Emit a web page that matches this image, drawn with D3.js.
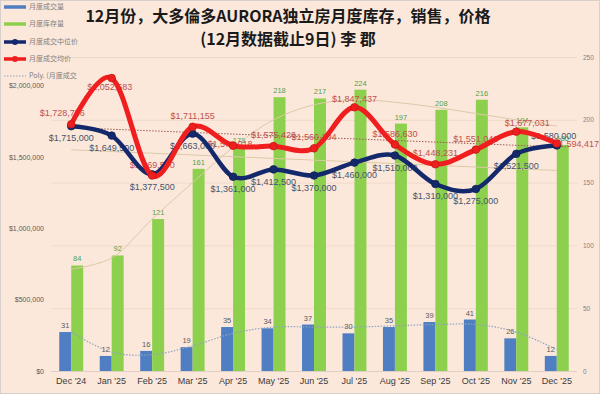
<!DOCTYPE html>
<html>
<head>
<meta charset="utf-8">
<script src="https://cdn.jsdelivr.net/npm/d3@7"></script>
<style>
  body { margin: 0; background: #fff; }
  svg { display: block; }
</style>
</head>
<body>
<div id="chart"></div>
<script>
// dati
const months = ["Dec '24", "Jan '25", "Feb '25", "Mar '25", "Apr '25", "May '25", "Jun '25",
                "Jul '25", "Aug '25", "Sep '25", "Oct '25", "Nov '25", "Dec '25"];
const volume = [31, 12, 16, 19, 35, 34, 37, 30, 35, 39, 41, 26, 12];
const inventory = [84, 92, 121, 161, 178, 218, 217, 224, 197, 208, 216, 194, 180];
const medianPrice = [1715000, 1649500, 1377500, 1663000, 1361000, 1412500, 1370000,
                     1460000, 1510000, 1310000, 1275000, 1521500, 1580000];
const avgPrice = [1728786, 2052583, 1369500, 1711155, 1578018, 1575426, 1560104,
                  1847437, 1586630, 1448231, 1551046, 1677031, 1594417];
// linee di tendenza (lette a occhio)
const volumeTrend = [31, 15, 13, 20, 30, 35, 35, 35, 36, 37, 37, 31, 17];
const inventoryTrend = [81, 90, 121, 150, 178, 200, 212, 216, 214, 210, 205, 200, 195];
const avgTrendEnds = [1705000, 1570000];
const medianTrendEnds = [1550000, 1405000];
const priceTicks = [0, 500000, 1000000, 1500000, 2000000];
const countTicks = [0, 50, 100, 150, 200, 250];

const legendItems = ["月度成交量", "月度库存量", "月度成交中位价", "月度成交均价", "Poly. (月度成交"];
const titleLines = ["12月份，大多倫多AURORA独立房月度库存，销售，价格", "(12月数据截止9日) 李 郡"];

const W = 600, H = 396;
const plotLeft = 51, plotRight = 577, plotTop = 57, plotBottom = 371;
const numFont = "'Liberation Sans', Arial, sans-serif";
const cjkFont = "'Noto Sans CJK SC', 'Noto Sans', sans-serif";

const colBlue = "#4F7EC2", colGreen = "#8DD04E", colNavy = "#14296B", colRed = "#F01E1E";

let svg = d3.select("#chart").append("svg").attr("width", W).attr("height", H);

svg.append("rect").attr("x", 0.5).attr("y", 0.5).attr("width", W - 1).attr("height", 393)
    .attr("fill", "#FCE8DB").attr("stroke", "#D6CFCA");

// scale
let x = d3.scaleBand().domain(months).range([plotLeft, plotRight]).padding(0);
let sub = d3.scaleBand().domain(["vol", "inv"]).range([0, x.bandwidth()]).paddingInner(0).paddingOuter(0.69);
let yL = d3.scaleLinear().domain([0, 2200000]).range([plotBottom, plotTop]);
let yR = d3.scaleLinear().domain([0, 250]).range([plotBottom, plotTop]);
let cx = (m) => x(m) + x.bandwidth() / 2;

// griglia
svg.append("g")
    .attr("transform", `translate(${plotLeft},0)`)
    .call(d3.axisLeft(yR).tickValues(countTicks).tickSize(-(plotRight - plotLeft)).tickFormat(""))
    .call(g => g.select(".domain").remove())
    .call(g => g.selectAll("line").attr("stroke", "#EFD9CA").attr("stroke-width", 1));

svg.append("line").attr("x1", plotLeft).attr("x2", plotRight).attr("y1", plotBottom + 0.5).attr("y2", plotBottom + 0.5)
    .attr("stroke", "#E0CFC4");

// assi
svg.append("g")
    .attr("transform", `translate(46,0)`)
    .call(d3.axisLeft(yL).tickValues(priceTicks).tickSize(0).tickPadding(2).tickFormat(d3.format("$,")))
    .call(g => g.select(".domain").remove())
    .call(g => g.selectAll("text").attr("fill", "#595959").style("font-family", numFont).style("font-size", "7px"));

svg.append("g")
    .attr("transform", `translate(580,0)`)
    .call(d3.axisRight(yR).tickValues(countTicks).tickSize(0).tickPadding(3))
    .call(g => g.select(".domain").remove())
    .call(g => g.selectAll("text").attr("fill", "#7F7F7F").style("font-family", numFont).style("font-size", "6.5px"));

svg.append("g")
    .attr("transform", `translate(0,${plotBottom})`)
    .call(d3.axisBottom(x).tickSize(0).tickPadding(7))
    .call(g => g.select(".domain").remove())
    .call(g => g.selectAll("text").attr("fill", "#3A3A3A").style("font-family", numFont).style("font-size", "9px"));

// barre
let bars = svg.append("g");
bars.selectAll(".vol").data(volume).enter().append("rect")
    .attr("x", (d, i) => x(months[i]) + sub("vol"))
    .attr("y", d => yR(d))
    .attr("width", sub.bandwidth())
    .attr("height", d => plotBottom - yR(d))
    .attr("fill", colBlue);
bars.selectAll(".inv").data(inventory).enter().append("rect")
    .attr("x", (d, i) => x(months[i]) + sub("inv"))
    .attr("y", d => yR(d))
    .attr("width", sub.bandwidth())
    .attr("height", d => plotBottom - yR(d))
    .attr("fill", colGreen);

bars.selectAll(".volLab").data(volume).enter().append("text")
    .attr("x", (d, i) => x(months[i]) + sub("vol") + sub.bandwidth() / 2)
    .attr("y", d => yR(d) - 4)
    .attr("text-anchor", "middle")
    .style("font-family", numFont).style("font-size", "7.5px").attr("fill", "#595959")
    .text(d => d);
bars.selectAll(".invLab").data(inventory).enter().append("text")
    .attr("x", (d, i) => x(months[i]) + sub("inv") + sub.bandwidth() / 2)
    .attr("y", d => yR(d) - 4)
    .attr("text-anchor", "middle")
    .style("font-family", numFont).style("font-size", "7.5px").attr("fill", "#4FA24A")
    .text(d => d);

// linee di tendenza
let smooth = d3.line().curve(d3.curveCatmullRom.alpha(0.5));
svg.append("path")
    .attr("d", smooth(inventoryTrend.map((v, i) => [cx(months[i]), yR(v)])))
    .attr("fill", "none").attr("stroke", "#DCC9A8").attr("stroke-width", 1);
svg.append("path")
    .attr("d", smooth(volumeTrend.map((v, i) => [cx(months[i]), yR(v)])))
    .attr("fill", "none").attr("stroke", "#8FA3BE").attr("stroke-width", 1.2).attr("stroke-dasharray", "1.5,1.5");
svg.append("line")
    .attr("x1", cx(months[0])).attr("x2", cx(months[12]))
    .attr("y1", yL(medianTrendEnds[0])).attr("y2", yL(medianTrendEnds[1]))
    .attr("stroke", "#DCC9A8").attr("stroke-width", 1);
svg.append("line")
    .attr("x1", cx(months[0])).attr("x2", cx(months[12]))
    .attr("y1", yL(avgTrendEnds[0])).attr("y2", yL(avgTrendEnds[1]))
    .attr("stroke", "#9C5B55").attr("stroke-width", 1).attr("stroke-dasharray", "1.5,1.5");

// etichette dei prezzi (spostamenti come nel grafico originale)
let fmt = d3.format("$,");
let navyNudge = medianPrice.map((d, i) => i === 12 ? [-3, -10] : [0, 12]);
let redNudge = avgPrice.map(() => [0, -11]);
redNudge[0] = [-9, -11];
redNudge[1] = [-2, 9];
redNudge[4] = [-3, -2];
redNudge[7] = [0, -8];
redNudge[11] = [11, -9];

svg.append("g").selectAll("text").data(medianPrice).enter().append("text")
    .attr("x", (d, i) => cx(months[i]) + navyNudge[i][0])
    .attr("y", (d, i) => yL(d) + navyNudge[i][1])
    .attr("dy", "0.35em").attr("text-anchor", "middle")
    .style("font-family", numFont).style("font-size", "9px").attr("fill", "#44546A")
    .text(d => fmt(d));
svg.append("g").selectAll("text").data(avgPrice).enter().append("text")
    .attr("x", (d, i) => i === 12 ? 599 : cx(months[i]) + redNudge[i][0])
    .attr("y", (d, i) => i === 12 ? yL(d) : yL(d) + redNudge[i][1])
    .attr("dy", "0.35em").attr("text-anchor", (d, i) => i === 12 ? "end" : "middle")
    .style("font-family", numFont).style("font-size", "9px").attr("fill", "#C0504D")
    .text(d => fmt(d));

// linee prezzi
let priceLine = d3.line().curve(d3.curveCatmullRom.alpha(0));
function drawSeries(values, color, width) {
    let pts = values.map((v, i) => [cx(months[i]), yL(v)]);
    svg.append("path").attr("d", priceLine(pts))
        .attr("fill", "none").attr("stroke", color).attr("stroke-width", width)
        .attr("stroke-linejoin", "round").attr("stroke-linecap", "round");
    svg.append("g").selectAll("circle").data(pts).enter().append("circle")
        .attr("cx", d => d[0]).attr("cy", d => d[1]).attr("r", 3.8)
        .attr("fill", color).attr("stroke", d3.color(color).darker(0.6)).attr("stroke-width", 0.8);
}
drawSeries(medianPrice, colNavy, 4.5);
drawSeries(avgPrice, colRed, 5);

// legenda
let legendY = [7, 24, 42, 59, 76];
let legend = svg.append("g");
legendItems.forEach((name, i) => {
    let ly = legendY[i];
    let line = legend.append("line").attr("x1", 4).attr("x2", 26).attr("y1", ly).attr("y2", ly);
    if (i === 0) line.attr("stroke", colBlue).attr("stroke-width", 3.5);
    if (i === 1) line.attr("stroke", colGreen).attr("stroke-width", 3.5);
    if (i === 2) line.attr("stroke", colNavy).attr("stroke-width", 3.5);
    if (i === 3) line.attr("stroke", colRed).attr("stroke-width", 3.5);
    if (i === 4) line.attr("stroke", "#8FA3BE").attr("stroke-width", 1).attr("stroke-dasharray", "1.5,1.5");
    if (i === 2 || i === 3) {
        legend.append("circle").attr("cx", 15).attr("cy", ly).attr("r", 3)
            .attr("fill", i === 2 ? colNavy : colRed);
    }
    legend.append("text").attr("x", 29).attr("y", ly).attr("dy", "0.35em")
        .style("font-family", cjkFont).style("font-size", "7px").attr("fill", "#7F7F7F")
        .text(name);
});

// titolo
svg.append("g").selectAll("text").data(titleLines).enter().append("text")
    .attr("x", 288).attr("y", (d, i) => 22 + i * 23)
    .attr("text-anchor", "middle")
    .style("font-family", cjkFont).style("font-size", "16px").style("font-weight", "bold")
    .attr("fill", "#1A1A1A")
    .text(d => d);
</script>
</body>
</html>
